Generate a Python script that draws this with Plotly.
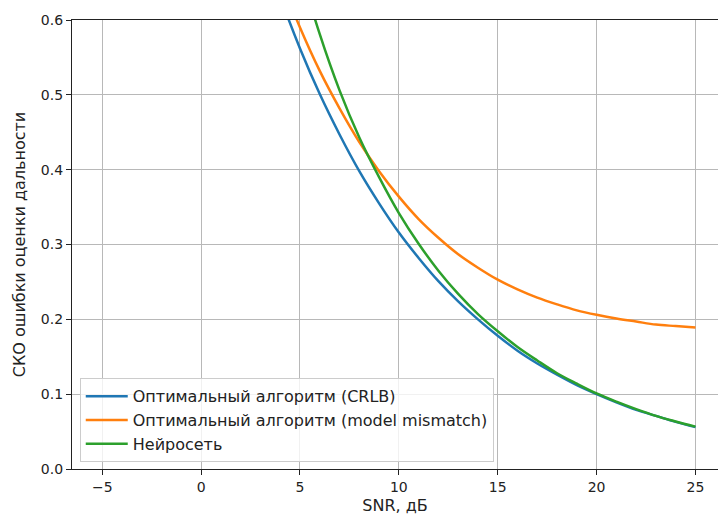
import plotly.graph_objects as go

snr_db = [-5, -4, -3, -2, -1, 0, 1, 2, 3, 4, 5, 6, 7, 8, 9, 10,
          11, 12, 13, 14, 15, 16, 17, 18, 19, 20, 21, 22, 23, 24, 25]

crlb = [1.778, 1.585, 1.413, 1.259, 1.122, 1.000, 0.891, 0.794, 0.708, 0.631,
        0.562, 0.501, 0.447, 0.398, 0.355, 0.316, 0.282, 0.251, 0.224, 0.200,
        0.178, 0.158, 0.141, 0.126, 0.112, 0.100, 0.089, 0.079, 0.071, 0.063, 0.056]

mismatch = [1.787, 1.595, 1.424, 1.272, 1.136, 1.016, 0.909, 0.814, 0.730, 0.656,
            0.590, 0.532, 0.482, 0.437, 0.398, 0.364, 0.334, 0.309, 0.287, 0.269,
            0.253, 0.240, 0.229, 0.220, 0.212, 0.206, 0.201, 0.197, 0.193, 0.191, 0.189]

neural = [4.49, 3.48, 2.745, 2.208, 1.806, 1.496, 1.253, 1.061, 0.904, 0.776,
          0.670, 0.581, 0.506, 0.443, 0.390, 0.342, 0.301, 0.265, 0.234, 0.207,
          0.184, 0.163, 0.145, 0.128, 0.114, 0.101, 0.090, 0.080, 0.071, 0.0635, 0.0566]

names = ["Оптимальный алгоритм (CRLB)",
         "Оптимальный алгоритм (model mismatch)",
         "Нейросеть"]
colors = ["#1f77b4", "#ff7f0e", "#2ca02c"]

x_ticks = [-5, 0, 5, 10, 15, 20, 25]
y_ticks = [0.0, 0.1, 0.2, 0.3, 0.4, 0.5, 0.6]

FONT = "DejaVu Sans"

fig = go.Figure()
for i, (ys, nm, c) in enumerate(zip([crlb, mismatch, neural], names, colors)):
    fig.add_trace(go.Scatter(x=snr_db, y=ys, mode="lines", name=nm,
                             line=dict(color=c, width=2.5, shape="spline"),
                             legendgroup=f"g{i}"))

fig.update_layout(
    width=718, height=518,
    margin=dict(l=72, r=0, t=20, b=49),
    paper_bgcolor="white", plot_bgcolor="white",
    font=dict(family=FONT, size=14, color="#222"),
    showlegend=True,
    legend=dict(x=0.012, y=0.015, xanchor="left", yanchor="bottom",
                bgcolor="rgba(255,255,255,0.8)", bordercolor="#cccccc",
                borderwidth=1, font=dict(family=FONT, size=16, color="#222"),
                tracegroupgap=0, traceorder="grouped", itemwidth=42),
)
fig.update_xaxes(
    range=[-6.53, 26.14], tickvals=x_ticks,
    ticktext=[str(v).replace("-", "−") for v in x_ticks],
    tickfont=dict(size=14),
    showgrid=True, gridcolor="#b8b8b8", gridwidth=1,
    showline=True, linecolor="#222", linewidth=1.2, mirror=True,
    ticks="outside", ticklen=5, tickcolor="#222",
    zeroline=False, automargin=False,
    title=dict(text="SNR, дБ", standoff=5, font=dict(size=16)),
)
fig.update_yaxes(
    range=[0, 0.6], tickvals=y_ticks, ticktext=[f"{v:.1f}" for v in y_ticks],
    tickfont=dict(size=14),
    showgrid=True, gridcolor="#b8b8b8", gridwidth=1,
    showline=True, linecolor="#222", linewidth=1.2, mirror=False,
    ticks="outside", ticklen=5, tickcolor="#222",
    zeroline=False, automargin=False,
    title=dict(text="СКО ошибки оценки дальности", standoff=11, font=dict(size=16)),
)

fig.write_html("out.html")
